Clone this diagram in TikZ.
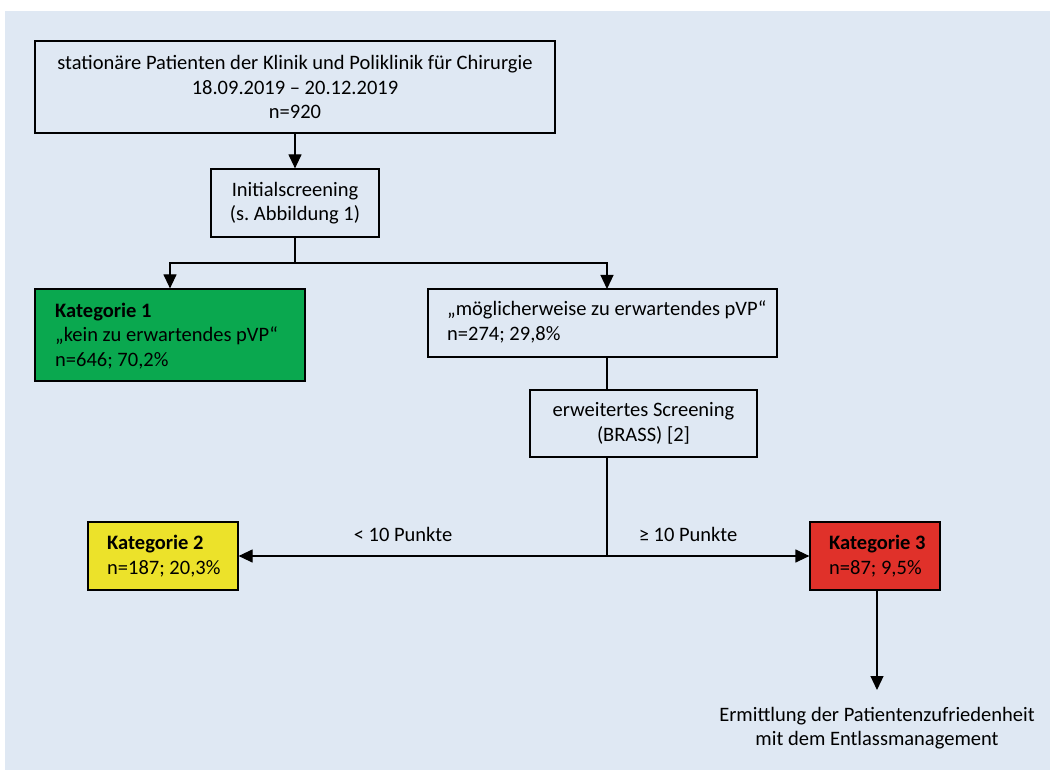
\documentclass[tikz,border=0pt]{standalone}
\usepackage{fontspec}
\setmainfont{Carlito}
\usetikzlibrary{arrows.meta}
\definecolor{bg}{HTML}{DFE8F3}
\definecolor{kgreen}{HTML}{0AA84F}
\definecolor{kyellow}{HTML}{ECE22A}
\definecolor{kred}{HTML}{E0312A}
\tikzset{
  box/.style={draw=black, line width=1.2pt, inner sep=0pt, font=\fontsize{20.5}{24.5}\selectfont},
  arr/.style={line width=1.2pt, -{Triangle[length=14pt,width=13pt]}},
  ln/.style={line width=1.2pt},
  lbl/.style={inner sep=0pt, font=\fontsize{20.5}{24.5}\selectfont},
  txt/.style={lbl, anchor=west, align=left}
}
\frenchspacing
\begin{document}
\begin{tikzpicture}[x=1pt,y=-1pt]
\useasboundingbox (0,0) rectangle (1050,770);
\fill[bg] (5,11) rectangle (1050,770);

\node[box, minimum width=520pt, minimum height=92pt, align=center] (top) at (295,87)
  {stationäre Patienten der Klinik und Poliklinik für Chirurgie\\18.09.2019 – 20.12.2019\\n=920};
\node[box, minimum width=168pt, minimum height=68pt, align=center] (init) at (295,203)
  {Initialscreening\\(s. Abbildung 1)};
\node[box, fill=kgreen, minimum width=270pt, minimum height=92pt] (kat1) at (170,335) {};
\node[txt] (kat1t) at (55,336) {\textbf{Kategorie 1}\\„kein zu erwartendes pVP“\\n=646; 70,2\%};
\node[box, minimum width=349pt, minimum height=68pt] (mog) at (602.5,323) {};
\node[txt] (mogt) at (447,322) {„möglicherweise zu erwartendes pVP“\\n=274; 29,8\%};
\node[box, minimum width=227pt, minimum height=67pt, align=center] (erw) at (643.5,423.5)
  {erweitertes Screening\\(BRASS) [2]};
\node[box, fill=kyellow, minimum width=150pt, minimum height=68pt] (kat2) at (163,556) {};
\node[txt] (kat2t) at (107,556) {\textbf{Kategorie 2}\\n=187; 20,3\%};
\node[box, fill=kred, minimum width=130pt, minimum height=68pt] (kat3) at (875,556) {};
\node[txt] (kat3t) at (829,556) {\textbf{Kategorie 3}\\n=87; 9,5\%};
\node[lbl, align=center] (fin) at (877,728)
  {Ermittlung der Patientenzufriedenheit\\mit dem Entlassmanagement};
\node[lbl] (lt) at (403,534) {< 10 Punkte};
\node[lbl] (ge) at (688,534) {≥ 10 Punkte};

\coordinate (split1) at (295,263);
\coordinate (mtop) at (607,289);
\coordinate (mbot) at (607,357);
\coordinate (etop) at (607,390);
\coordinate (ebot) at (607,457);
\coordinate (split2) at (607,556);
\coordinate (k3bot) at (877,590);
\coordinate (fintop) at (877,690);

\draw[arr] (top.south) -- (init.north);
\draw[ln] (init.south) -- (split1);
\draw[arr] (split1) -| (kat1.north);
\draw[arr] (split1) -| (mtop);
\draw[ln] (mbot) -- (etop);
\draw[ln] (ebot) -- (split2);
\draw[arr] (split2) -- (kat2.east);
\draw[arr] (split2) -- (kat3.west);
\draw[arr] (k3bot) -- (fintop);
\end{tikzpicture}
\end{document}
